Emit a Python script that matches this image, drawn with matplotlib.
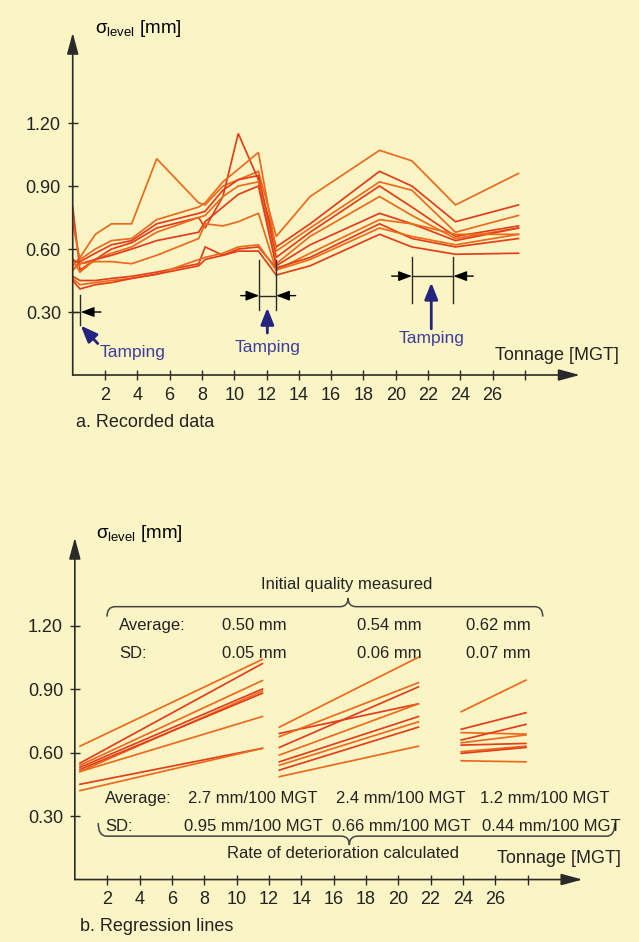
import matplotlib.pyplot as plt
from matplotlib.path import Path
from matplotlib.patches import PathPatch

plt.rcParams['font.family'] = ['Liberation Sans', 'DejaVu Sans']
plt.rcParams['mathtext.fontset'] = 'custom'
plt.rcParams['mathtext.rm'] = 'Liberation Sans'
plt.rcParams['mathtext.it'] = 'Liberation Sans:italic'

# ---- data, panel a (recorded) ----
tonnage_rec = [0, 0.45, 1.4, 2.4, 3.65, 5.2, 7.8, 8.2, 9.3, 10.25, 11.5, 12.6, 14.7, 19.0, 21.0, 23.7, 27.6]
recorded = [
    [0.52, 0.56, 0.67, 0.72, 0.72, 1.03, 0.82, 0.81, 0.90, 0.93, 0.97, 0.66, 0.85, 1.07, 1.02, 0.81, 0.96],
    [0.80, 0.50, 0.55, 0.60, 0.63, 0.70, 0.75, 0.70, 0.85, 1.15, 0.93, 0.61, 0.72, 0.97, 0.90, 0.73, 0.81],
    [0.72, 0.55, 0.60, 0.64, 0.65, 0.74, 0.80, 0.82, 0.92, 0.98, 1.06, 0.59, 0.70, 0.92, 0.88, 0.68, 0.76],
    [0.50, 0.54, 0.58, 0.62, 0.64, 0.72, 0.77, 0.78, 0.88, 0.93, 0.95, 0.56, 0.68, 0.90, 0.80, 0.66, 0.71],
    [0.55, 0.49, 0.55, 0.58, 0.61, 0.68, 0.75, 0.76, 0.85, 0.90, 0.92, 0.53, 0.66, 0.85, 0.76, 0.65, 0.70],
    [0.55, 0.53, 0.55, 0.57, 0.60, 0.64, 0.68, 0.73, 0.80, 0.86, 0.90, 0.52, 0.62, 0.77, 0.72, 0.64, 0.70],
    [0.50, 0.53, 0.54, 0.54, 0.53, 0.57, 0.65, 0.72, 0.71, 0.73, 0.77, 0.50, 0.58, 0.74, 0.72, 0.67, 0.67],
    [0.47, 0.45, 0.45, 0.46, 0.47, 0.49, 0.53, 0.61, 0.57, 0.60, 0.61, 0.51, 0.56, 0.72, 0.65, 0.61, 0.65],
    [0.46, 0.43, 0.44, 0.45, 0.46, 0.48, 0.55, 0.56, 0.58, 0.61, 0.62, 0.50, 0.55, 0.70, 0.66, 0.62, 0.67],
    [0.45, 0.41, 0.43, 0.44, 0.46, 0.48, 0.52, 0.55, 0.57, 0.59, 0.59, 0.476, 0.52, 0.67, 0.61, 0.575, 0.58],
]

# ---- data, panel b (regression lines) ----
seg_x = [(0.32, 11.6), (12.65, 21.25), (23.9, 27.9)]
seg1_start = [0.63, 0.55, 0.54, 0.53, 0.51, 0.52, 0.51, 0.45, 0.42]
seg1_end = [1.04, 1.02, 0.94, 0.90, 0.89, 0.88, 0.77, 0.62, 0.62]
seg2_start = [0.72, 0.69, 0.675, 0.624, 0.588, 0.556, 0.54, 0.517, 0.486]
seg2_end = [1.05, 0.83, 0.93, 0.91, 0.83, 0.77, 0.745, 0.72, 0.63]
seg3_start = [0.793, 0.71, 0.694, 0.659, 0.646, 0.635, 0.604, 0.596, 0.561]
seg3_end = [0.942, 0.788, 0.687, 0.733, 0.683, 0.643, 0.63, 0.624, 0.556]

avg_init = ['0.50 mm', '0.54 mm', '0.62 mm']
sd_init = ['0.05 mm', '0.06 mm', '0.07 mm']
avg_rate = ['2.7 mm/100 MGT', '2.4 mm/100 MGT', '1.2 mm/100 MGT']
sd_rate = ['0.95 mm/100 MGT', '0.66 mm/100 MGT', '0.44 mm/100 MGT']

xticks = [2, 4, 6, 8, 10, 12, 14, 16, 18, 20, 22, 24, 26, 28]
xticklabels = ['2', '4', '6', '8', '10', '12', '14', '16', '18', '20', '22', '24', '26', '']
yticks = [0.30, 0.60, 0.90, 1.20]

bg = '#fbf5c6'
line_cols = ['#ec6a1c', '#e23e1a']
axc = '#2a2a2a'
blue = '#232380'
tblue = '#3c3c9c'

fig = plt.figure(figsize=(6.39, 9.42), dpi=100, facecolor=bg)
ax1 = fig.add_axes([0.1138, 0.6019, 0.8088, 0.3678])
ax2 = fig.add_axes([0.1171, 0.0663, 0.8097, 0.3708])


def setup(ax, xtip, ytip):
    ax.set_xlim(0, 32)
    ax.set_ylim(0, 1.65)
    ax.patch.set_alpha(0)
    for s in ax.spines.values():
        s.set_visible(False)
    ax.set_xticks(xticks)
    ax.set_xticklabels(xticklabels)
    ax.set_yticks(yticks)
    ax.set_yticklabels(['%.2f' % v for v in yticks])
    ax.tick_params(direction='inout', length=7, width=1, color=axc,
                   labelsize=13, labelcolor='#222222', pad=5)
    ax.annotate('', xy=(xtip, 0), xytext=(0, 0), annotation_clip=False,
                arrowprops=dict(arrowstyle='-|>,head_length=1.3,head_width=0.35',
                                color=axc, lw=1.2, shrinkA=0, shrinkB=0))
    ax.annotate('', xy=(0, ytip), xytext=(0, 0), annotation_clip=False,
                arrowprops=dict(arrowstyle='-|>,head_length=1.3,head_width=0.35',
                                color=axc, lw=1.2, shrinkA=0, shrinkB=0))


def brace(ax, x0, x1, xm, y, yend, ytip, d=0.5):
    verts = [(x0, yend), (x0, y), (x0 + d, y), (xm - d, y), (xm, y), (xm, ytip),
             (xm, y), (xm + d, y), (x1 - d, y), (x1, y), (x1, yend)]
    codes = [Path.MOVETO, Path.CURVE3, Path.CURVE3, Path.LINETO, Path.CURVE3, Path.CURVE3,
             Path.CURVE3, Path.CURVE3, Path.LINETO, Path.CURVE3, Path.CURVE3]
    ax.add_patch(PathPatch(Path(verts, codes), fill=False, ec='#444444', lw=1.1, clip_on=False))


def hmark(ax, xa, xb, y, ylo, yhi, xl, xr):
    # vertical limit lines with arrows pointing at them
    for xv in (xa, xb):
        ax.plot([xv, xv], [ylo, yhi], color=axc, lw=1, clip_on=False)
    ax.plot([xa, xb], [y, y], color=axc, lw=1)
    ax.annotate('', xy=(xa, y), xytext=(xl, y),
                arrowprops=dict(arrowstyle='-|>,head_length=0.8,head_width=0.3',
                                color='black', lw=1, shrinkA=0, shrinkB=0))
    ax.annotate('', xy=(xb, y), xytext=(xr, y),
                arrowprops=dict(arrowstyle='-|>,head_length=0.8,head_width=0.3',
                                color='black', lw=1, shrinkA=0, shrinkB=0))


def blue_arrow(ax, xy, xytext):
    ax.annotate('', xy=xy, xytext=xytext,
                arrowprops=dict(arrowstyle='-|>,head_length=1.0,head_width=0.4',
                                color=blue, lw=2, shrinkA=0, shrinkB=0))


ylabel = 'σ$_{\\mathrm{level}}$ [mm]'

# ---------------- panel a ----------------
setup(ax1, 31.4, 1.63)
for i, vals in enumerate(recorded):
    ax1.plot(tonnage_rec, vals, color=line_cols[i % 2], lw=1.25, solid_joinstyle='miter')

ax1.text(1.38, 1.648, ylabel, fontsize=13.5, va='center', ha='left')
ax1.text(26.15, 0.095, 'Tonnage [MGT]', fontsize=13, va='center', ha='left', color='#222222')
ax1.text(0.2, -0.224, 'a. Recorded data', fontsize=13, va='center', ha='left', color='#222222',
         clip_on=False)

# tamping 1
ax1.plot([0.45, 0.45], [0.24, 0.38], color=axc, lw=1)
ax1.plot([0, 0.45], [0.30, 0.30], color=axc, lw=1)
ax1.annotate('', xy=(0.5, 0.30), xytext=(1.75, 0.30),
             arrowprops=dict(arrowstyle='-|>,head_length=0.8,head_width=0.3',
                             color='black', lw=1, shrinkA=0, shrinkB=0))
blue_arrow(ax1, (0.5, 0.235), (1.55, 0.15))
ax1.text(3.7, 0.105, 'Tamping', fontsize=12.5, color=tblue, ha='center', va='center')

# tamping 2
hmark(ax1, 11.55, 12.6, 0.378, 0.31, 0.55, 10.4, 13.8)
blue_arrow(ax1, (12.05, 0.32), (12.05, 0.20))
ax1.text(12.05, 0.133, 'Tamping', fontsize=12.5, color=tblue, ha='center', va='center')

# tamping 3
hmark(ax1, 21.0, 23.57, 0.471, 0.343, 0.563, 19.75, 24.8)
blue_arrow(ax1, (22.2, 0.44), (22.2, 0.22))
ax1.text(22.2, 0.176, 'Tamping', fontsize=12.5, color=tblue, ha='center', va='center')

# ---------------- panel b ----------------
setup(ax2, 31.4, 1.615)
segs = [(seg1_start, seg1_end), (seg2_start, seg2_end), (seg3_start, seg3_end)]
for (xa, xb), (s0, s1) in zip(seg_x, segs):
    for i, (a, b) in enumerate(zip(s0, s1)):
        ax2.plot([xa, xb], [a, b], color=line_cols[i % 2], lw=1.25)

ax2.text(1.31, 1.635, ylabel, fontsize=13.5, va='center', ha='left')
ax2.text(26.09, 0.10, 'Tonnage [MGT]', fontsize=13, va='center', ha='left', color='#222222')
ax2.text(0.32, -0.223, 'b. Regression lines', fontsize=13, va='center', ha='left', color='#222222',
         clip_on=False)

ax2.text(16.83, 1.394, 'Initial quality measured', fontsize=12, ha='center', va='center',
         color='#222222')
brace(ax2, 1.99, 28.94, 16.9, 1.289, 1.242, 1.33)
ax2.text(2.73, 1.199, 'Average:', fontsize=12, va='center', color='#222222')
ax2.text(2.73, 1.068, 'SD:', fontsize=12, va='center', color='#222222')
for xl, a, s in zip([9.08, 17.43, 24.19], avg_init, sd_init):
    ax2.text(xl, 1.199, a, fontsize=12, va='center', color='#222222')
    ax2.text(xl, 1.068, s, fontsize=12, va='center', color='#222222')

ax2.text(1.87, 0.384, 'Average:', fontsize=12, va='center', color='#222222')
ax2.text(1.87, 0.249, 'SD:', fontsize=12, va='center', color='#222222')
for xl, a in zip([7.02, 16.15, 25.06], avg_rate):
    ax2.text(xl, 0.384, a, fontsize=12, va='center', color='#222222')
for xl, s in zip([6.77, 15.89, 25.16], sd_rate):
    ax2.text(xl, 0.249, s, fontsize=12, va='center', color='#222222')
brace(ax2, 1.45, 33.4, 16.98, 0.205, 0.267, 0.163)
ax2.text(16.58, 0.124, 'Rate of deterioration calculated', fontsize=12, ha='center',
         va='center', color='#222222')

fig.savefig('out.png', dpi=100, facecolor=bg)
